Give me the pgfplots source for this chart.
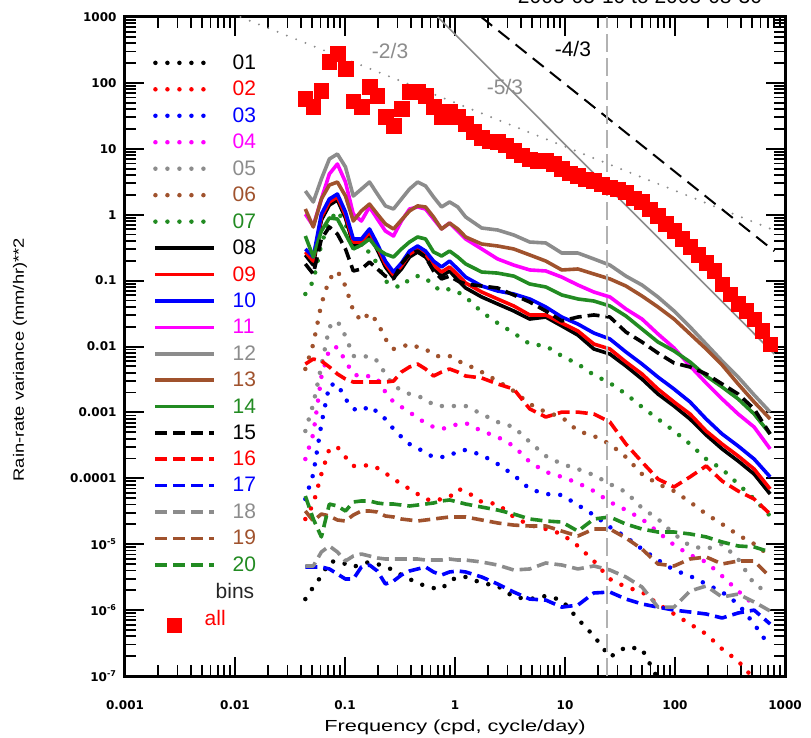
\documentclass[border=0pt]{standalone}
\usepackage{fontspec}
\setmainfont{Liberation Sans}
\newfontfamily\tickfont{DejaVu Sans}
\usepackage{pgfplots}
\usepackage{pgfplotstable}
\pgfplotsset{compat=1.18}
\definecolor{cgray}{RGB}{140,140,140}
\definecolor{cbrown}{RGB}{160,82,45}
\definecolor{cgreen}{RGB}{34,139,34}
\definecolor{cred}{RGB}{255,0,0}
\definecolor{cblue}{RGB}{0,0,255}
\definecolor{cmag}{RGB}{255,0,255}
\pgfplotsset{
 dotS/.style={mark=none, line width=4.5pt, line cap=round, dash pattern=on 0pt off 12pt},
 solS/.style={mark=none, line width=3.6pt, line join=round},
 dasS/.style={mark=none, line width=3.6pt, line join=round, dash pattern=on 12pt off 6pt},
}
\pgfplotstableread{
f s01 s02 s03 s04 s05 s06 s07 s08 s09 s10 s11 s12 s13 s14 s15 s16 s17 s18 s19 s20
0.0436 1.47e-6 2.41e-5 4.85e-5 1.96e-4 5.22e-4 4.56e-3 0.0626 0.245 0.272 0.302 1.02 2.29 1.22 0.475 0.179 5.42e-3 4.51e-6 4.67e-6 3.19e-5 5.38e-5
0.0515 2.24e-6 4.07e-5 1.16e-4 4.70e-4 1.34e-3 0.0109 0.0986 0.172 0.198 0.228 0.674 1.56 0.651 0.228 0.126 6.46e-3 4.51e-6 4.67e-6 2.25e-5 2.41e-5
0.0610 3.29e-6 1.16e-4 6.67e-4 3.44e-3 5.06e-3 0.0442 0.359 0.831 0.923 1.02 1.73 3.48 1.73 0.566 0.428 6.03e-3 4.51e-6 7.62e-6 2.87e-5 1.29e-5
0.0721 5.37e-6 2.79e-4 2.61e-3 9.17e-3 0.0198 0.106 0.802 1.40 1.56 1.73 4.15 7.00 2.82 0.891 0.651 4.89e-3 4.21e-6 9.40e-6 2.68e-5 4.07e-5
0.0853 5.56e-6 2.98e-4 2.70e-3 9.82e-3 0.0244 0.140 1.14 1.67 1.86 2.06 5.88 8.34 3.13 0.861 0.509 3.83e-3 3.53e-6 7.62e-6 2.33e-5 3.80e-5
0.101 5.01e-6 2.10e-4 1.60e-3 6.03e-3 0.0144 0.0828 0.723 0.891 0.990 1.10 3.13 5.30 1.92 0.509 0.302 3.21e-3 2.96e-6 5.56e-6 2.25e-5 3.19e-5
0.119 4.51e-6 1.54e-4 1.13e-3 3.83e-3 7.18e-3 0.0346 0.359 0.347 0.385 0.428 1.02 1.92 0.802 0.302 0.140 2.89e-3 2.96e-6 6.62e-6 2.77e-5 4.37e-5
0.141 5.01e-6 1.54e-4 1.05e-3 3.44e-3 6.93e-3 0.0244 0.302 0.347 0.385 0.428 0.802 2.45 1.14 0.347 0.150 2.89e-3 4.51e-6 7.10e-6 3.19e-5 4.53e-5
0.167 5.37e-6 1.59e-4 1.25e-3 3.57e-3 7.18e-3 0.0322 0.272 0.492 0.546 0.607 1.31 3.13 1.45 0.428 0.191 2.89e-3 4.83e-6 6.62e-6 3.19e-5 4.53e-5
0.197 5.01e-6 1.43e-4 1.01e-3 3.21e-3 6.03e-3 0.0235 0.179 0.291 0.324 0.359 0.861 2.06 1.02 0.302 0.150 2.89e-3 3.92e-6 6.18e-6 3.08e-5 4.22e-5
0.233 4.51e-6 1.20e-4 7.94e-4 2.04e-3 3.83e-3 0.0130 0.0986 0.161 0.179 0.198 0.566 1.36 0.723 0.253 0.117 2.89e-3 2.49e-6 5.96e-6 2.68e-5 4.07e-5
0.276 4.06e-6 9.76e-5 5.60e-4 1.44e-3 2.52e-3 9.17e-3 0.0828 0.110 0.122 0.135 0.475 1.22 0.607 0.228 0.106 2.99e-3 2.76e-6 5.96e-6 2.59e-5 4.07e-5
0.326 3.41e-6 8.19e-5 4.24e-4 1.21e-3 2.19e-3 9.82e-3 0.0800 0.150 0.167 0.185 0.802 1.73 0.831 0.302 0.179 4.10e-3 3.41e-6 5.96e-6 2.41e-5 3.93e-5
0.386 2.96e-6 6.88e-5 3.31e-4 1.01e-3 1.90e-3 0.0109 0.106 0.228 0.253 0.281 1.22 2.45 1.14 0.385 0.253 4.89e-3 3.92e-6 5.96e-6 2.33e-5 3.80e-5
0.457 2.58e-6 5.78e-5 2.88e-4 8.22e-4 1.77e-3 9.82e-3 0.117 0.272 0.302 0.335 1.31 3.13 1.36 0.459 0.281 5.42e-3 4.21e-6 5.96e-6 2.25e-5 3.93e-5
0.540 2.32e-6 4.85e-5 2.42e-4 6.90e-4 1.60e-3 9.17e-3 0.110 0.228 0.253 0.281 1.22 2.73 1.31 0.428 0.228 4.56e-3 4.51e-6 5.75e-6 2.33e-5 4.07e-5
0.638 2.16e-6 4.53e-5 2.10e-4 6.00e-4 1.29e-3 7.43e-3 0.0828 0.155 0.172 0.198 0.861 1.86 0.923 0.272 0.140 3.57e-3 3.79e-6 5.75e-6 2.41e-5 4.22e-5
0.755 2.09e-6 4.85e-5 2.10e-4 5.60e-4 1.25e-3 6.93e-3 0.0695 0.117 0.135 0.161 0.607 1.31 0.607 0.236 0.106 4.10e-3 3.41e-6 5.75e-6 2.50e-5 4.53e-5
0.893 2.76e-6 5.20e-5 2.18e-4 6.00e-4 1.25e-3 7.18e-3 0.0746 0.140 0.161 0.198 0.748 1.56 0.748 0.281 0.117 4.56e-3 3.79e-6 5.96e-6 2.59e-5 4.69e-5
1.06 3.18e-6 6.88e-5 2.60e-4 6.67e-4 1.25e-3 6.03e-3 0.0671 0.102 0.122 0.150 0.566 1.31 0.607 0.228 0.0986 4.10e-3 3.92e-6 5.75e-6 2.59e-5 4.37e-5
1.25 3.18e-6 6.41e-5 2.69e-4 6.90e-4 1.25e-3 5.42e-3 0.0564 0.0773 0.0920 0.113 0.428 0.923 0.459 0.179 0.0888 3.57e-3 3.79e-6 5.75e-6 2.59e-5 4.07e-5
1.75 2.58e-6 4.37e-5 2.26e-4 5.22e-4 9.46e-4 4.10e-3 0.0334 0.0564 0.0671 0.0828 0.302 0.628 0.359 0.135 0.0828 3.33e-3 3.18e-6 5.37e-6 2.33e-5 3.66e-5
2.44 2.32e-6 4.07e-5 1.65e-4 4.24e-4 7.15e-4 2.99e-3 0.0227 0.0442 0.0526 0.0695 0.213 0.586 0.335 0.130 0.0773 2.70e-3 2.49e-6 4.83e-6 2.10e-5 3.30e-5
3.42 1.58e-6 2.59e-5 1.12e-4 3.09e-4 6.00e-4 2.11e-3 0.0160 0.0346 0.0412 0.0626 0.172 0.492 0.302 0.117 0.0605 2.26e-3 1.88e-6 4.06e-6 1.95e-5 2.87e-5
4.78 1.47e-6 1.95e-5 6.88e-5 1.77e-4 3.56e-4 1.34e-3 0.0109 0.0261 0.0301 0.0526 0.145 0.385 0.245 0.0888 0.0473 1.13e-3 1.47e-6 4.21e-6 1.89e-5 2.41e-5
6.69 1.64e-6 1.70e-5 5.78e-5 1.25e-4 2.18e-4 1.01e-3 0.0102 0.0280 0.0301 0.0398 0.140 0.372 0.198 0.0800 0.0346 8.51e-4 1.42e-6 5.19e-6 1.89e-5 2.25e-5
9.35 1.42e-6 1.43e-5 5.58e-5 1.05e-4 1.65e-4 8.51e-4 7.18e-3 0.0205 0.0227 0.0280 0.113 0.262 0.145 0.0605 0.0244 1.01e-3 1.11e-6 4.83e-6 1.58e-5 2.17e-5
13.1 7.33e-7 9.40e-6 3.93e-5 8.49e-5 1.38e-4 5.22e-4 5.42e-3 0.0149 0.0172 0.0219 0.0857 0.262 0.150 0.0526 0.0280 1.01e-3 1.19e-6 4.21e-6 1.33e-5 1.58e-5
18.3 4.05e-7 5.56e-6 2.77e-5 6.41e-5 1.12e-4 4.39e-4 3.70e-3 9.17e-3 0.0109 0.0160 0.0671 0.213 0.126 0.0490 0.0301 9.46e-4 1.82e-6 4.67e-6 1.70e-5 2.41e-5
25.6 1.94e-7 2.96e-6 1.82e-5 4.37e-5 8.19e-5 3.31e-4 2.79e-3 7.69e-3 9.17e-3 0.0130 0.0564 0.172 0.106 0.0412 0.0280 7.15e-4 1.88e-6 4.06e-6 1.70e-5 2.59e-5
35.8 2.75e-7 2.24e-6 1.29e-5 3.30e-5 6.19e-5 2.10e-4 1.90e-3 5.06e-3 5.82e-3 8.26e-3 0.0371 0.117 0.0828 0.0290 0.0166 3.31e-4 1.47e-6 3.18e-6 1.24e-5 2.02e-5
50.1 2.57e-7 1.88e-6 8.45e-6 2.41e-5 3.54e-5 1.16e-4 1.21e-3 3.21e-3 3.83e-3 5.42e-3 0.0261 0.0857 0.0584 0.0184 0.0117 1.77e-4 1.24e-6 2.24e-6 8.45e-6 1.70e-5
70.0 9.00e-8 1.24e-6 5.75e-6 1.53e-5 2.41e-5 8.19e-5 7.94e-4 1.90e-3 2.26e-3 3.44e-3 0.0155 0.0564 0.0398 0.0117 7.96e-3 9.76e-5 1.11e-6 1.11e-6 5.01e-6 1.53e-5
98.0 2.23e-8 8.73e-7 4.06e-6 9.73e-6 1.43e-5 6.41e-5 5.22e-4 1.25e-3 1.44e-3 2.26e-3 9.49e-3 0.0346 0.0261 8.55e-3 5.62e-3 7.38e-5 1.00e-6 1.11e-6 4.67e-6 1.53e-5
137 nan 6.15e-7 3.29e-6 6.86e-6 9.40e-6 4.37e-5 3.31e-4 7.94e-4 9.46e-4 1.44e-3 5.06e-3 0.0198 0.0155 5.82e-3 4.89e-3 1.05e-4 9.36e-7 1.95e-6 5.96e-6 1.43e-5
192 nan 4.34e-7 2.49e-6 5.37e-6 8.45e-6 2.87e-5 1.96e-4 4.54e-4 5.22e-4 7.94e-4 2.79e-3 0.0109 9.17e-3 3.57e-3 3.83e-3 1.54e-4 8.73e-7 2.32e-6 6.40e-6 1.29e-5
268 nan 2.57e-7 1.88e-6 3.29e-6 1.01e-5 2.02e-5 1.38e-4 2.79e-4 3.31e-4 4.70e-4 1.60e-3 6.03e-3 5.24e-3 2.43e-3 2.70e-3 9.10e-5 7.59e-7 1.58e-6 5.01e-6 1.08e-5
375 nan 1.69e-7 1.24e-6 1.95e-6 5.96e-6 1.38e-5 8.19e-5 1.83e-4 2.18e-4 3.09e-4 9.46e-4 3.44e-3 2.70e-3 1.60e-3 1.90e-3 6.41e-5 9.04e-7 1.75e-6 5.56e-6 9.40e-6
524 nan 9.00e-8 6.15e-7 1.19e-6 2.49e-6 1.01e-5 4.85e-5 1.16e-4 1.38e-4 1.96e-4 6.00e-4 1.84e-3 1.44e-3 9.46e-4 1.13e-3 4.85e-5 1.00e-6 1.33e-6 5.56e-6 9.07e-6
733 nan 4.48e-8 2.75e-7 nan 1.75e-6 6.62e-6 2.68e-5 5.78e-5 6.88e-5 1.05e-4 2.79e-4 1.01e-3 7.94e-4 4.70e-4 4.70e-4 2.87e-5 6.15e-7 9.69e-7 3.18e-6 7.62e-6
}\spec
\pgfplotstableread{
f v
0.0436 57.0
0.0515 43.1
0.0610 75.4
0.0721 208
0.0853 275
0.101 163
0.119 53.1
0.141 43.1
0.167 86.7
0.197 63.3
0.233 30.4
0.276 22.2
0.326 40.2
0.386 72.8
0.457 72.8
0.540 63.3
0.638 43.1
0.755 30.4
0.893 36.2
1.06 30.4
1.25 23.8
1.48 18.0
1.75 14.6
2.07 13.1
2.44 12.7
2.89 11.4
3.42 9.26
4.04 8.05
4.78 7.00
5.65 6.53
6.69 6.53
7.91 5.88
9.35 4.94
11.1 4.29
13.1 3.87
15.5 3.48
18.3 3.25
21.6 2.92
25.6 2.63
30.3 2.45
35.8 2.21
42.3 1.79
50.1 1.56
59.2 1.22
70.0 0.956
82.8 0.723
98.0 0.566
116 0.428
137 0.324
162 0.245
192 0.185
227 0.140
268 0.0888
317 0.0626
375 0.0442
443 0.0346
524 0.0261
620 0.0172
733 0.0109
}\allspec
\begin{document}
\begin{tikzpicture}
\useasboundingbox (-125pt,-62pt) rectangle (686pt,676pt);
\begin{axis}[
  at={(0pt,0pt)}, anchor=south west,
  width=660pt, height=659pt, scale only axis,
  xmode=log, ymode=log,
  xmin=0.001, xmax=1000, ymin=1e-7, ymax=1000,
  axis line style={line width=3pt},
  tick align=inside,
  major tick length=19pt, minor tick length=11pt,
  major tick style={line width=2pt, black},
  minor tick style={line width=1.8pt, black},
  xtick={0.001,0.01,0.1,1,10,100,1000},
  xticklabels={0.001,0.01,0.1,1,10,100,1000},
  minor xtick={0.002,0.003,0.004,0.005,0.006,0.007,0.008,0.009,0.02,0.03,0.04,0.05,0.06,0.07,0.08,0.09,0.2,0.3,0.4,0.5,0.6,0.7,0.8,0.9,2,3,4,5,6,7,8,9,20,30,40,50,60,70,80,90,200,300,400,500,600,700,800,900},
  ytick={1e-7,1e-6,1e-5,1e-4,1e-3,1e-2,1e-1,1,10,100,1000},
  yticklabels={10\textsuperscript{-7},10\textsuperscript{-6},10\textsuperscript{-5},0.0001,0.001,0.01,0.1,1,10,100,1000},
  minor ytick={2e-7,3e-7,4e-7,5e-7,6e-7,7e-7,8e-7,9e-7,2e-6,3e-6,4e-6,5e-6,6e-6,7e-6,8e-6,9e-6,2e-5,3e-5,4e-5,5e-5,6e-5,7e-5,8e-5,9e-5,2e-4,3e-4,4e-4,5e-4,6e-4,7e-4,8e-4,9e-4,0.002,0.003,0.004,0.005,0.006,0.007,0.008,0.009,0.02,0.03,0.04,0.05,0.06,0.07,0.08,0.09,0.2,0.3,0.4,0.5,0.6,0.7,0.8,0.9,2,3,4,5,6,7,8,9,20,30,40,50,60,70,80,90,200,300,400,500,600,700,800,900},
  ticklabel style={font=\tickfont\bfseries\fontsize{12pt}{14pt}\selectfont},
  xticklabel style={yshift=-21pt},
  yticklabel style={xshift=-5pt},
  xlabel={\scalebox{1.36}[1]{Frequency (cpd, cycle/day)}},
  ylabel={\scalebox{1.22}[1]{Rain-rate variance (mm/hr)**2}},
  xlabel style={at={(axis description cs:0.5,-0.0774)}, anchor=center, font=\fontsize{16pt}{18pt}\selectfont},
  ylabel style={at={(axis description cs:-0.159,0.48)}, anchor=center, font=\fontsize{15pt}{17pt}\selectfont},
  legend image code/.code={\draw[#1] (0pt,0pt) -- (59pt,0pt);},
  legend cell align=left,
  legend style={draw=none, fill=none, at={(axis description cs:0.0424,0.943)}, anchor=north west,
    inner sep=0pt, row sep=10.3pt, column sep=16pt,
    font=\fontsize{21pt}{21pt}\selectfont, nodes={inner sep=0pt}},
]
\addplot[black, dotS] table[x=f,y=s01]{\spec}; \addlegendentry{\textcolor{black}{01}}
\addplot[cred, dotS] table[x=f,y=s02]{\spec}; \addlegendentry{\textcolor{cred}{02}}
\addplot[cblue, dotS] table[x=f,y=s03]{\spec}; \addlegendentry{\textcolor{cblue}{03}}
\addplot[cmag, dotS] table[x=f,y=s04]{\spec}; \addlegendentry{\textcolor{cmag}{04}}
\addplot[cgray, dotS] table[x=f,y=s05]{\spec}; \addlegendentry{\textcolor{cgray}{05}}
\addplot[cbrown, dotS] table[x=f,y=s06]{\spec}; \addlegendentry{\textcolor{cbrown}{06}}
\addplot[cgreen, dotS] table[x=f,y=s07]{\spec}; \addlegendentry{\textcolor{cgreen}{07}}
\addplot[black, solS] table[x=f,y=s08]{\spec}; \addlegendentry{\textcolor{black}{08}}
\addplot[cred, solS] table[x=f,y=s09]{\spec}; \addlegendentry{\textcolor{cred}{09}}
\addplot[cblue, solS] table[x=f,y=s10]{\spec}; \addlegendentry{\textcolor{cblue}{10}}
\addplot[cmag, solS] table[x=f,y=s11]{\spec}; \addlegendentry{\textcolor{cmag}{11}}
\addplot[cgray, solS] table[x=f,y=s12]{\spec}; \addlegendentry{\textcolor{cgray}{12}}
\addplot[cbrown, solS] table[x=f,y=s13]{\spec}; \addlegendentry{\textcolor{cbrown}{13}}
\addplot[cgreen, solS] table[x=f,y=s14]{\spec}; \addlegendentry{\textcolor{cgreen}{14}}
\addplot[black, dasS] table[x=f,y=s15]{\spec}; \addlegendentry{\textcolor{black}{15}}
\addplot[cred, dasS] table[x=f,y=s16]{\spec}; \addlegendentry{\textcolor{cred}{16}}
\addplot[cblue, dasS] table[x=f,y=s17]{\spec}; \addlegendentry{\textcolor{cblue}{17}}
\addplot[cgray, dasS] table[x=f,y=s18]{\spec}; \addlegendentry{\textcolor{cgray}{18}}
\addplot[cbrown, dasS] table[x=f,y=s19]{\spec}; \addlegendentry{\textcolor{cbrown}{19}}
\addplot[cgreen, dasS] table[x=f,y=s20]{\spec}; \addlegendentry{\textcolor{cgreen}{20}}
\addlegendimage{empty legend}
\addlegendentry{\hspace*{-17pt}\textcolor{black!85}{bins}}
\addplot[only marks, mark=square*, mark size=7.3pt, mark options={solid, draw=cred, fill=cred}, color=cred,
  legend image code/.code={\draw[cred] plot[mark=square*, mark size=7pt, mark options={fill=cred, draw=cred}] coordinates {(19pt,-14pt)};}]
  table[x=f,y=v]{\allspec};
\addlegendentry{\hspace*{-36pt}\raisebox{-14pt}{\textcolor{cred}{all}}}
% reference slopes
\addplot[cgray, mark=none, line width=2.2pt, line cap=round, dash pattern=on 0pt off 10pt, forget plot] coordinates {(0.0112,1000) (780,0.59)};
\addplot[cgray, mark=none, line width=1.6pt, forget plot] coordinates {(0.697,1000) (800,0.0077)};
\addplot[black, mark=none, line width=2pt, dash pattern=on 14pt off 8pt, forget plot] coordinates {(1.73,1000) (800,0.28)};
\addplot[black!30, mark=none, line width=2pt, dash pattern=on 18pt off 6pt, forget plot] coordinates {(24,1e-7) (24,1000)};
\node[cgray, font=\fontsize{21pt}{21pt}\selectfont] at (axis cs:0.257,305) {-2/3};
\node[cgray, font=\fontsize{21pt}{21pt}\selectfont] at (axis cs:2.85,86.7) {-5/3};
\node[black, font=\fontsize{21pt}{21pt}\selectfont] at (axis cs:11.8,327) {-4/3};
\end{axis}
\node[anchor=base, font=\fontsize{21pt}{21pt}\selectfont] at (515pt,672pt) {2005-05-10 to 2005-08-30};
\end{tikzpicture}
\end{document}
